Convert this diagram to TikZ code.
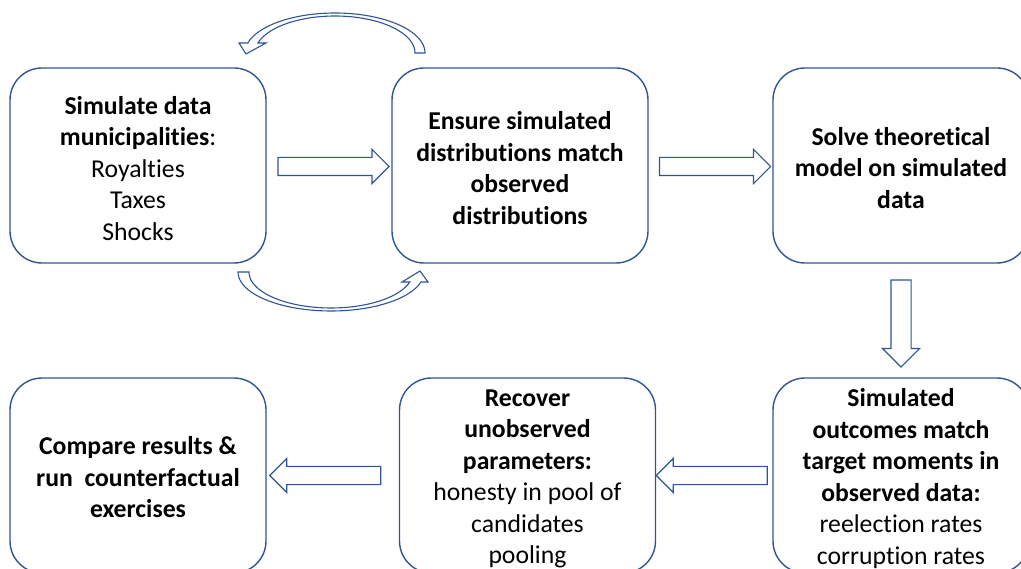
\documentclass[tikz,border=0pt]{standalone}
\usepackage{fontspec}
\setmainfont{Carlito}[Ligatures=NoCommon]
\usetikzlibrary{shapes.arrows,calc}
\definecolor{flowblue}{HTML}{2F5597}
\begin{document}
\begin{tikzpicture}[x=1pt,y=-1pt,
  stage/.style={draw=flowblue, line width=1.4pt, rounded corners=32pt,
    minimum width=256pt, minimum height=195pt, inner sep=0pt},
  stagetext/.style={align=center, inner sep=0pt,
    font=\fontsize{25.7}{31.5}\selectfont},
  blockarrow/.style={single arrow, draw=flowblue, line width=1.1pt, fill=white,
    minimum height=111pt, inner xsep=2pt, inner ysep=8.5pt,
    single arrow head extend=8pt, single arrow head indent=0pt},
  curvearrow/.style={draw=flowblue, line width=1.1pt, fill=white, line join=miter}]
\clip (0,0) rectangle (1021,569);

% process stages
\node[stage] (sim) at (138,165.5) {};
\node[stage] (ens) at (520,165.5) {};
\node[stage] (sol) at (901,165.5) {};
\node[stage] (mom) at (901,475.5) {};
\node[stage] (rec) at (527.5,475.5) {};
\node[stage] (cmp) at (138,475.5) {};

% stage texts
\node[stagetext] (simtxt) at ([yshift=-3pt]sim.center) {\textbf{Simulate data}\\\textbf{municipalities}:\\Royalties\\Taxes\\Shocks};
\node[stagetext] (enstxt) at ([yshift=-2.5pt]ens.center) {\textbf{Ensure simulated}\\\textbf{distributions match}\\\textbf{observed}\\\textbf{distributions}};
\node[stagetext] (soltxt) at ([yshift=-2.5pt]sol.center) {\textbf{Solve theoretical}\\\textbf{model on simulated}\\\textbf{data}};
\node[stagetext] (momtxt) at ([yshift=-3pt]mom.center) {\textbf{Simulated}\\\textbf{outcomes match}\\\textbf{target moments in}\\\textbf{observed data:}\\reelection rates\\corruption rates};
\node[stagetext] (rectxt) at ([yshift=-3.5pt]rec.center) {\textbf{Recover}\\\textbf{unobserved}\\\textbf{parameters:}\\honesty in pool of\\candidates\\pooling};
\node[stagetext] (cmptxt) at ([yshift=-2pt]cmp.center) {\textbf{Compare results \&}\\\textbf{run\ \ counterfactual}\\\textbf{exercises}};

% block arrows between stages
\node[blockarrow, yshift=-1pt] (a12) at ($(sim.east)!0.5!(ens.west)$) {};
\node[blockarrow, yshift=-1pt] (a23) at ($(ens.east)!0.5!(sol.west)$) {};
\node[blockarrow, rotate=-90, minimum height=87pt, inner ysep=9.5pt, single arrow head extend=8.5pt, xshift=-2pt] (a34) at ($(sol.south)!0.5!(mom.north)$) {};
\node[blockarrow, rotate=180, xshift=-2pt] (a45) at ($(mom.west)!0.5!(rec.east)$) {};
\node[blockarrow, rotate=180, xshift=3pt] (a56) at ($(rec.west)!0.5!(cmp.east)$) {};

% feedback loop above the first two stages
\filldraw[curvearrow] plot[domain=0:165.5,samples=60] ({335+90*cos(\x)},{53-40*sin(\x)})
  -- (239,43) -- (246,54) -- (266,43)
  -- plot[domain=164.3:0,samples=60] ({335+80*cos(\x)},{53-37*sin(\x)}) -- cycle;

% feedback loop below the first two stages
\filldraw[curvearrow] plot[domain=180:14.86,samples=60] ({331+93*cos(\x)},{272+39*sin(\x)})
  -- (428,282) -- (420,271) -- (402,282)
  -- plot[domain=16.13:180,samples=60] ({331+82*cos(\x)},{272+36*sin(\x)}) -- cycle;
\end{tikzpicture}
\end{document}
